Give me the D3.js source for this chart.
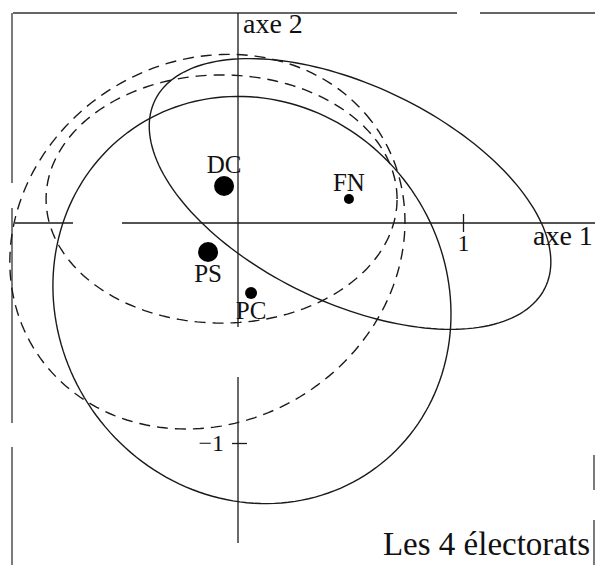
<!DOCTYPE html>
<html>
<head>
<meta charset="utf-8">
<script src="https://cdn.jsdelivr.net/npm/d3@7"></script>
<style>
  html, body { margin: 0; padding: 0; background: #fff; }
  svg text { font-family: "Liberation Serif", "Times New Roman", serif; fill: #111; }
</style>
</head>
<body>
<div id="chart"></div>
<script>
// electorats : position sur le plan factoriel (axe 1, axe 2) et poids relatif
const partis = ["DC", "FN", "PS", "PC"];
const axe1 = [-0.062, 0.493, -0.133, 0.058];
const axe2 = [0.168, 0.109, -0.132, -0.318];
const poids = [1.0, 0.25, 1.0, 0.36];
const placeLabel = ["above", "above", "below", "below"];

// ellipses de dispersion (centre, demi-axes, angle en degres)
const ellCx = [-0.073, 0.498, -0.136, 0.062];
const ellCy = [0.109, 0.132, -0.085, -0.350];
const ellA = [0.780, 0.966, 0.912, 0.942];
const ellB = [0.564, 0.492, 0.815, 0.867];
const ellAngle = [0, -26.4, 37, -61.5];
const ellDashed = [true, false, true, false];

const tickX = [1];
const tickY = [-1];

const width = 595, height = 565;

const svg = d3.select("#chart").append("svg")
    .attr("width", width)
    .attr("height", height)
    .attr("viewBox", [0, 0, width, height]);

const x = d3.scaleLinear().domain([0, 1]).range([238, 463]);
const y = d3.scaleLinear().domain([0, -1]).range([223, 443]);

const ink = "#1a1a1a";

// cadre (scan incomplet)
const frame = [
    [13, 13, 457, 13], [480, 13, 595, 13],
    [12, 13, 12, 183], [12, 208, 12, 423], [12, 447, 12, 565],
    [594, 455, 594, 490], [594, 520, 594, 565]
];
svg.append("g")
    .attr("stroke", "#333")
    .attr("stroke-width", 1.3)
    .selectAll("line")
    .data(frame)
    .join("line")
        .attr("x1", d => d[0]).attr("y1", d => d[1])
        .attr("x2", d => d[2]).attr("y2", d => d[3]);

// axes
const axisG = svg.append("g").attr("stroke", ink).attr("stroke-width", 1.3);
axisG.append("line").attr("x1", 15).attr("x2", 73).attr("y1", y(0)).attr("y2", y(0));
axisG.append("line").attr("x1", 122).attr("x2", width).attr("y1", y(0)).attr("y2", y(0));
axisG.append("line").attr("x1", x(0)).attr("x2", x(0)).attr("y1", 13).attr("y2", 327);
axisG.append("line").attr("x1", x(0)).attr("x2", x(0)).attr("y1", 377).attr("y2", 543);

const xAxis = d3.axisBottom(x).tickValues(tickX).tickSize(9).tickFormat(d3.format("d"));
svg.append("g")
    .attr("transform", `translate(0,${y(0)})`)
    .call(xAxis)
    .call(g => g.select(".domain").remove())
    .call(g => g.selectAll(".tick line")
        .attr("y1", -9).attr("y2", 9)
        .attr("stroke", ink).attr("stroke-width", 1.3))
    .call(g => g.selectAll(".tick text")
        .attr("y", 28).attr("dy", null)
        .attr("font-size", 24)
        .attr("font-family", null)
        .attr("fill", ink));

const yAxis = d3.axisLeft(y).tickValues(tickY).tickSize(6).tickFormat(d3.format("d"));
svg.append("g")
    .attr("transform", `translate(${x(0)},0)`)
    .call(yAxis)
    .call(g => g.select(".domain").remove())
    .call(g => g.selectAll(".tick line")
        .attr("x1", -6).attr("x2", 9)
        .attr("stroke", ink).attr("stroke-width", 1.3))
    .call(g => g.selectAll(".tick text")
        .attr("x", -14).attr("dy", "0.32em")
        .attr("font-size", 24)
        .attr("font-family", null)
        .attr("fill", ink));

svg.append("text").attr("x", x(0) + 5).attr("y", 33).attr("font-size", 28).text("axe 2");
svg.append("text").attr("x", 533).attr("y", 245).attr("font-size", 28).text("axe 1");

// ellipses
const ellipsePts = (i) => {
    const phi = ellAngle[i] * Math.PI / 180;
    return d3.range(0, 361, 2).map(deg => {
        const t = deg * Math.PI / 180;
        const px = ellA[i] * Math.cos(t), py = ellB[i] * Math.sin(t);
        return [ellCx[i] + px * Math.cos(phi) - py * Math.sin(phi),
                ellCy[i] + px * Math.sin(phi) + py * Math.cos(phi)];
    });
};
const line = d3.line().x(d => x(d[0])).y(d => y(d[1])).curve(d3.curveLinearClosed);

svg.append("g")
    .attr("fill", "none")
    .attr("stroke", ink)
    .attr("stroke-width", 1.4)
    .selectAll("path")
    .data(d3.range(ellCx.length))
    .join("path")
        .attr("d", i => line(ellipsePts(i)))
        .attr("stroke-dasharray", i => ellDashed[i] ? "11,7" : null);

// points
const r = d3.scaleSqrt().domain([0, 1]).range([0, 10]);
const I = d3.range(partis.length);

svg.append("g")
    .attr("fill", "#000")
    .selectAll("circle")
    .data(I)
    .join("circle")
        .attr("cx", i => x(axe1[i]))
        .attr("cy", i => y(axe2[i]))
        .attr("r", i => r(poids[i]));

svg.append("g")
    .attr("text-anchor", "middle")
    .attr("font-size", 25)
    .selectAll("text")
    .data(I)
    .join("text")
        .attr("x", i => x(axe1[i]))
        .attr("y", i => placeLabel[i] === "above"
            ? y(axe2[i]) - r(poids[i]) - 3
            : y(axe2[i]) + r(poids[i]) + 20)
        .text(i => partis[i]);

svg.append("text")
    .attr("x", 590).attr("y", 555)
    .attr("text-anchor", "end")
    .attr("font-size", 33)
    .text("Les 4 électorats");
</script>
</body>
</html>
